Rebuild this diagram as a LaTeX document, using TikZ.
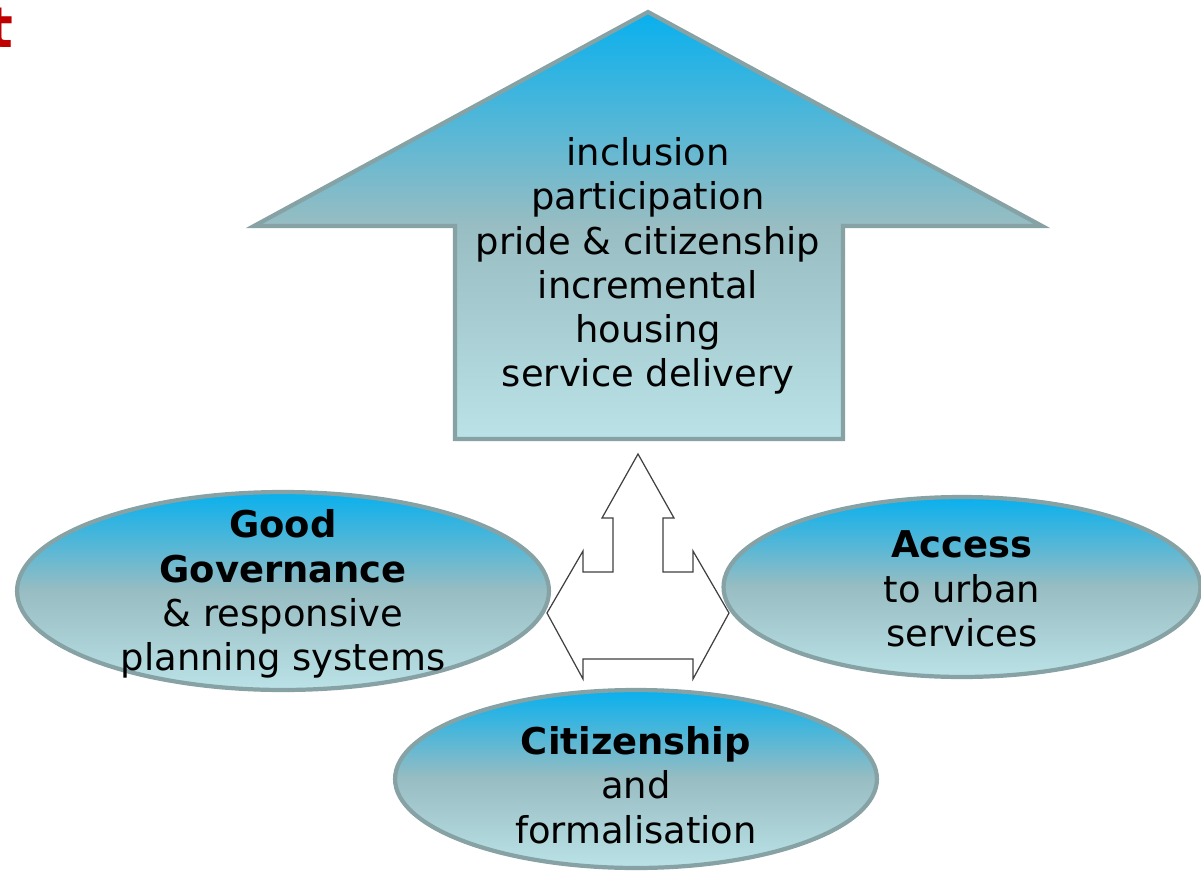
\documentclass[tikz,border=0pt]{standalone}
\usepackage{fontspec}
\setmainfont{DejaVu Sans}
\usetikzlibrary{shapes.geometric}

\definecolor{skyTop}{RGB}{8,176,238}
\definecolor{skyMid}{RGB}{152,189,194}
\definecolor{skyBot}{RGB}{186,226,231}
\definecolor{rimGrey}{RGB}{134,162,165}
\definecolor{titleRed}{RGB}{192,0,0}

\begin{document}
\begin{tikzpicture}[x=0.02cm,
            y=-0.02cm,
            sky/.style={draw=rimGrey, line width=2.4pt, top color=skyTop,
                        bottom color=skyBot, middle color=skyMid},
            blob/.style={ellipse, sky},
            words/.style={align=center, inner sep=0pt,
                          font=\fontsize{21}{25.2}\selectfont},
            hub/.style={draw=black!75, fill=white, line width=0.7pt,
                        line join=miter}]

        \useasboundingbox (0,0) rectangle (1201,872);

        \node[anchor=base east, inner sep=0pt, text=titleRed,
              font=\fontsize{32}{36}\selectfont\bfseries] (heading) at (14,48) {t};

        % big arrow going up
        \path[sky, line join=miter] (648,12) -- (1042,226) -- (843,226) -- (843,439)
              -- (455,439) -- (455,226) -- (254,226) -- cycle;
        \node[words] (gains) at (648,266)
              {inclusion\\participation\\pride \& citizenship\\incremental\\housing\\service delivery};

        % three way arrow in the middle
        \coordinate (hub) at (638,613);
        \draw[hub] (638,454) -- (674,518) -- (663,518) -- (663,572) -- (693,572)
              -- (693,551) -- (729,613) -- (693,679) -- (693,659) -- (583,659)
              -- (583,679) -- (547,613) -- (583,551) -- (583,572) -- (613,572)
              -- (613,518) -- (602,518) -- cycle;

        \node[blob, minimum width=10.64cm, minimum height=3.96cm] (gov) at (283,591) {};
        \node[blob, minimum width=9.54cm,  minimum height=3.6cm]  (acc) at (962,587) {};
        \node[blob, minimum width=9.64cm,  minimum height=3.56cm] (cit) at (636,779) {};

        \node[words] (govtext) at (283,594)
              {\textbf{Good}\\\textbf{Governance}\\\& responsive\\planning systems};
        \node[words] (acctext) at (962,589) {\textbf{Access}\\to urban\\services};
        \node[words] (cittext) at (636,785) {\textbf{Citizenship}\\and\\formalisation};

\end{tikzpicture}
\end{document}
